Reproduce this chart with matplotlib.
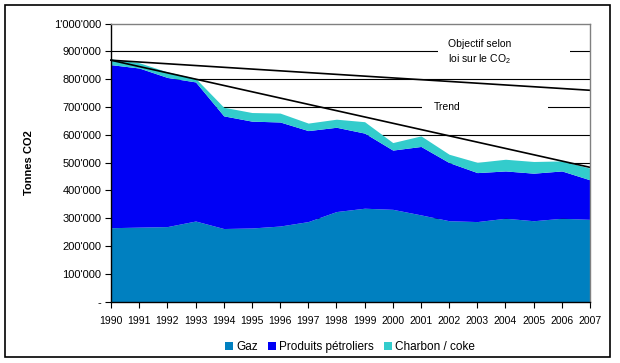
import matplotlib.pyplot as plt
from matplotlib.patches import Rectangle
from matplotlib.ticker import FuncFormatter

plt.rcParams['font.family'] = ['Liberation Sans', 'DejaVu Sans']
plt.rcParams['mathtext.fontset'] = 'custom'
plt.rcParams['mathtext.rm'] = 'Liberation Sans'
plt.rcParams['mathtext.default'] = 'regular'

years = list(range(1990, 2008))
gaz = [266000, 268000, 270000, 290000, 263000, 265000, 272000, 288000, 324000,
       336000, 332000, 312000, 291000, 288000, 300000, 291000, 300000, 296000]
total_petrol = [852000, 840000, 806000, 790000, 668000, 649000, 646000, 615000, 627000,
                606000, 545000, 558000, 500000, 464000, 470000, 462000, 470000, 438000]
total_coal = [873000, 859000, 826000, 803000, 699000, 680000, 678000, 642000, 656000,
              647000, 572000, 596000, 530000, 501000, 512000, 504000, 506000, 480000]

objectif_x = [1990, 2007]
objectif_y = [868000, 760000]
trend_x = [1990, 2007]
trend_y = [868000, 483000]

c_gaz = '#0080C0'
c_petrol = '#0000F5'
c_coal = '#33CCCC'

fig = plt.figure(figsize=(6.2, 3.63), dpi=100)
ax = fig.add_axes([111 / 620, 1 - 301.7 / 363, 479 / 620, 278.2 / 363])

# gridlines behind the areas
for v in range(100000, 1000000, 100000):
    ax.axhline(v, color='black', lw=0.8, zorder=0)

ax.fill_between(years, 0, gaz, color=c_gaz, lw=0, zorder=2, label='Gaz')
ax.fill_between(years, gaz, total_petrol, color=c_petrol, lw=0, zorder=2,
                label='Produits pétroliers')
ax.fill_between(years, total_petrol, total_coal, color=c_coal, lw=0, zorder=2,
                label='Charbon / coke')

# white boxes behind the annotations
ax.add_patch(Rectangle((2001.6, 872000), 4.68, 62000, facecolor='white',
                       edgecolor='none', zorder=1))
ax.add_patch(Rectangle((2001.05, 680000), 4.45, 40000, facecolor='white',
                       edgecolor='none', zorder=1))

ax.plot(objectif_x, objectif_y, color='black', lw=1.2, zorder=3, clip_on=False)
ax.plot(trend_x, trend_y, color='black', lw=1.2, zorder=3, clip_on=False)

ax.text(2001.96, 896000, 'Objectif selon\nloi sur le CO$_2$', fontsize=7.5,
        ha='left', va='center', linespacing=1.35, zorder=4)
ax.text(2001.45, 700000, 'Trend', fontsize=7.5, ha='left', va='center', zorder=4)

ax.set_xlim(1990, 2007)
ax.set_ylim(0, 1000000)
ax.set_xticks(years)
ax.set_xticklabels([str(y) for y in years], fontsize=7.5)
ax.set_yticks(range(0, 1000001, 100000))
ax.yaxis.set_major_formatter(FuncFormatter(
    lambda v, p: '-' if v == 0 else f'{int(v):,}'.replace(',', "'")))
ax.tick_params(axis='y', labelsize=8, length=4, width=0.8, direction='out', pad=3)
ax.tick_params(axis='x', length=4, width=0.8, direction='out', pad=6)

for s in ['top', 'right']:
    ax.spines[s].set_color('#808080')
    ax.spines[s].set_linewidth(1.0)
for s in ['left', 'bottom']:
    ax.spines[s].set_color('black')
    ax.spines[s].set_linewidth(1.0)
for s in ax.spines.values():
    s.set_zorder(5)

ax.set_ylabel('Tonnes CO2', fontsize=8, fontweight='bold')
ax.yaxis.set_label_coords(-0.16, 0.5)

fig.legend(loc='center', bbox_to_anchor=(350 / 620, 1 - 347 / 363), ncol=3,
           frameon=False, fontsize=8.5, handlelength=0.7, handleheight=0.7,
           handletextpad=0.3, columnspacing=0.8, borderpad=0)

fig.patches.append(Rectangle((5 / 620, 1 - 356.5 / 363), 605 / 620, 352 / 363,
                             transform=fig.transFigure, fill=False,
                             edgecolor='black', lw=1.2))

fig.savefig('out.png', dpi=100)
